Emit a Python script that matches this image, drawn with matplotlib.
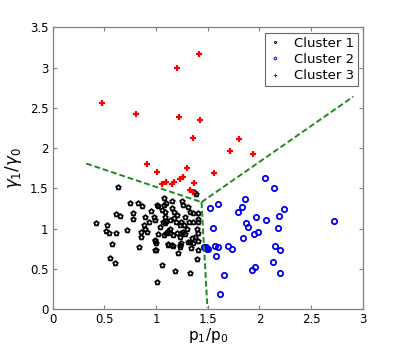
import matplotlib
matplotlib.use("Agg")
import matplotlib.pyplot as plt
import numpy as np

# Cluster 1 (black pentagrams)
c1_x = [0.416,0.522,0.515,0.548,0.612,0.716,0.573,0.551,0.606,0.629,0.612,0.654,0.75,0.83,0.864,0.774,0.774,0.893,0.886,0.893,0.854,0.909,0.851,0.838,0.986,0.986,1.009,1.057,1.183,1.325,1.215,1.40,0.98,1.01,1.08,1.073,1.10,1.057,1.086,1.173,1.151,1.248,1.257,1.312,1.328,1.354,1.408,1.07,1.096,1.134,1.192,1.231,1.118,1.134,1.096,1.076,1.166,1.263,1.28,1.231,1.112,1.16,1.231,1.231,1.305,1.35,1.335,1.36,1.376,1.40,1.36,1.405,1.405,1.37,1.39,1.41,1.41,1.41,1.02,0.99,1.086,1.176,1.24,1.273,1.318,1.086,1.20,1.24,0.99,0.996,1.157,1.118,1.238,1.328,1.0,0.95,1.15,1.2,1.28,0.93,1.04,1.14,1.3,1.02]
c1_y = [1.076,1.043,0.977,0.944,0.952,0.985,0.808,0.642,0.572,1.52,1.18,1.155,1.316,1.316,1.287,1.20,1.118,1.15,1.047,0.994,0.96,0.964,0.902,0.778,0.737,0.853,0.344,0.551,0.476,0.448,0.696,0.62,1.14,1.30,1.386,1.295,1.316,1.237,1.212,1.212,1.349,1.349,1.30,1.274,1.212,1.20,1.192,1.08,1.097,1.109,1.088,1.047,0.973,0.944,0.944,0.923,0.923,0.964,0.935,0.902,0.80,0.787,0.80,0.77,0.84,0.89,0.762,0.82,0.895,0.994,1.088,1.08,0.845,1.45,1.43,1.12,0.95,0.737,1.28,1.11,1.14,1.13,1.088,1.047,1.08,1.076,0.952,0.944,0.86,0.828,0.80,0.81,0.828,0.84,0.74,1.22,1.26,1.17,1.15,1.08,1.02,1.0,1.0,0.93]

# Cluster 2 (blue circles)
c2_x = [2.053,2.14,1.52,1.60,1.86,1.834,1.795,2.24,2.19,1.97,2.063,1.866,1.89,2.18,1.547,1.99,1.95,1.84,2.72,2.153,2.20,1.695,1.737,1.57,1.596,1.48,1.50,1.576,2.127,1.957,1.93,2.20,1.657,1.618,1.46,1.47,1.49,1.48]
c2_y = [1.626,1.50,1.26,1.31,1.37,1.27,1.21,1.24,1.16,1.14,1.11,1.076,1.02,1.006,1.01,0.956,0.935,0.88,1.10,0.79,0.74,0.78,0.75,0.79,0.77,0.765,0.753,0.66,0.59,0.53,0.485,0.45,0.427,0.19,0.77,0.76,0.75,0.77]

# Cluster 3 (red plus)
c3_x = [0.48,0.81,1.20,1.42,1.22,1.43,1.36,1.80,1.72,1.94,0.91,1.01,1.30,1.56,1.37,1.06,1.10,1.15,1.17,1.23,1.26,1.33,1.36]
c3_y = [2.56,2.43,3.00,3.17,2.39,2.35,2.13,2.12,1.96,1.93,1.80,1.71,1.75,1.69,1.57,1.55,1.585,1.55,1.58,1.62,1.645,1.48,1.46]

# Decision boundaries
b_left_x = [0.325, 1.44]
b_left_y = [1.81, 1.33]
b_right_x = [1.44, 2.907]
b_right_y = [1.33, 2.64]
b_down_x = [1.44, 1.497]
b_down_y = [1.33, 0.02]

xticks = [0, 0.5, 1, 1.5, 2, 2.5, 3]
xtick_labels = ["0", "0.5", "1", "1.5", "2", "2.5", "3"]
yticks = [0, 0.5, 1, 1.5, 2, 2.5, 3, 3.5]
ytick_labels = ["0", "0.5", "1", "1.5", "2", "2.5", "3", "3.5"]

fig = plt.figure(figsize=(4.01, 3.46), dpi=100)
ax = fig.add_axes([0.131, 0.106, 0.774, 0.815])

l1, = ax.plot(c1_x, c1_y, linestyle='none', marker='p', markersize=3.3,
        markerfacecolor='none', markeredgecolor='black', markeredgewidth=1.3, label='Cluster 1')
l2, = ax.plot(c2_x, c2_y, linestyle='none', marker='o', markersize=3.8,
        markerfacecolor='none', markeredgecolor='#0000ee', markeredgewidth=1.3, label='Cluster 2')
l3, = ax.plot(c3_x, c3_y, linestyle='none', marker='+', markersize=4.5,
        color='red', markeredgewidth=1.6, label='Cluster 3')

gc = '#1e8a1e'
for bx, by in [(b_left_x, b_left_y), (b_right_x, b_right_y), (b_down_x, b_down_y)]:
    ax.plot(bx, by, linestyle=(0, (3, 1.5)), color=gc, linewidth=1.4)

ax.set_xlim(0, 3)
ax.set_ylim(0, 3.5)
ax.set_xticks(xticks)
ax.set_xticklabels(xtick_labels)
ax.set_yticks(yticks)
ax.set_yticklabels(ytick_labels)
ax.tick_params(direction='in', top=True, right=True, length=3, labelsize=8.5,
               color='#808080', width=0.8, pad=3)
for s in ax.spines.values():
    s.set_color('#808080')
    s.set_linewidth(0.9)

ax.set_xlabel('p$_1$/p$_0$', fontsize=11, labelpad=0)
ax.set_ylabel('$\\gamma_1$/$\\gamma_0$', fontsize=12, labelpad=4)

leg = ax.legend(loc='upper right', fontsize=9.5, frameon=True, fancybox=False,
                edgecolor='#404040', handlelength=1.0, handletextpad=0.9,
                borderpad=0.3, labelspacing=0.25, markerscale=0.5,
                borderaxespad=0.4)
leg.get_frame().set_linewidth(0.8)
for h in leg.legend_handles:
    h.set_markeredgewidth(0.7)

fig.savefig('out.png', dpi=100)
